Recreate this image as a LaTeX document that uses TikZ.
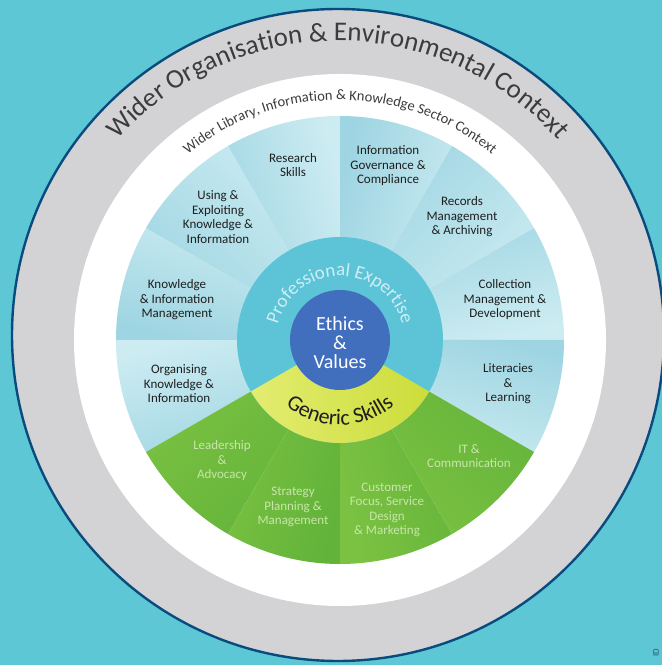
\documentclass[tikz,border=0pt]{standalone}
\usepackage{fontspec}
\setmainfont{Carlito}
\usetikzlibrary{calc,decorations.text}
\definecolor{BackClr}{rgb}{0.3647,0.7804,0.8392}
\definecolor{RimClr}{rgb}{0.0392,0.2941,0.4902}
\definecolor{GreyClr}{rgb}{0.8275,0.8235,0.8314}
\definecolor{SegDarkClr}{rgb}{0.6196,0.8353,0.8863}
\definecolor{SegLightClr}{rgb}{0.8039,0.9255,0.949}
\definecolor{ProfClr}{rgb}{0.3608,0.7686,0.8392}
\definecolor{EthicsClr}{rgb}{0.2588,0.4314,0.7451}
\definecolor{GenDarkClr}{rgb}{0.8,0.8667,0.2275}
\definecolor{GenLightClr}{rgb}{0.8902,0.9255,0.4392}
\definecolor{GreenDarkClr}{rgb}{0.3843,0.702,0.2275}
\definecolor{GreenLightClr}{rgb}{0.4863,0.7608,0.2588}
\definecolor{GreenTxtClr}{rgb}{0.7843,0.902,0.6667}
\definecolor{ProfTxtClr}{rgb}{0.8039,0.9333,0.9569}
\definecolor{RingTxtClr}{rgb}{0.2353,0.2353,0.2431}
\definecolor{LabelClr}{rgb}{0.1176,0.1176,0.1176}
\definecolor{MarkClr}{rgb}{0.1216,0.3608,0.4314}

\tikzset{
  bluewedge/.style={top color=SegDarkClr,bottom color=SegLightClr,shading angle=#1},
  greenwedge/.style={top color=GreenDarkClr,bottom color=GreenLightClr,shading angle=#1},
  seglabel/.style={align=center,text=LabelClr,font=\fontsize{13}{14.5}\selectfont},
  greenlabel/.style={align=center,text=GreenTxtClr,font=\fontsize{13}{14.5}\selectfont}
}

\begin{document}
\begin{tikzpicture}[x=1pt,y=1pt]
\coordinate (SW) at (0,0);
\coordinate (NE) at (662,665);
\coordinate (G) at (338,330);
\coordinate (W) at (340,325);

\useasboundingbox (SW) rectangle (NE);
\fill[BackClr] (SW) rectangle (NE);

\fill[GreyClr] (G) circle[radius=326];
\draw[RimClr,line width=2.4pt] (G) circle[radius=326];
\fill[white] (W) circle[radius=266];

\shade[bluewedge=195] (W) -- ++(180:224) arc[start angle=180,end angle=210,radius=224] -- cycle;
\shade[bluewedge=165] (W) -- ++(150:224) arc[start angle=150,end angle=180,radius=224] -- cycle;
\shade[bluewedge=135] (W) -- ++(120:224) arc[start angle=120,end angle=150,radius=224] -- cycle;
\shade[bluewedge=105] (W) -- ++(90:224) arc[start angle=90,end angle=120,radius=224] -- cycle;
\shade[bluewedge=75] (W) -- ++(60:224) arc[start angle=60,end angle=90,radius=224] -- cycle;
\shade[bluewedge=45] (W) -- ++(30:224) arc[start angle=30,end angle=60,radius=224] -- cycle;
\shade[bluewedge=15] (W) -- ++(0:224) arc[start angle=0,end angle=30,radius=224] -- cycle;
\shade[bluewedge=-15] (W) -- ++(-30:224) arc[start angle=-30,end angle=0,radius=224] -- cycle;
\shade[greenwedge=225] (W) -- ++(210:224) arc[start angle=210,end angle=240,radius=224] -- cycle;
\shade[greenwedge=255] (W) -- ++(240:224) arc[start angle=240,end angle=270,radius=224] -- cycle;
\shade[greenwedge=285] (W) -- ++(270:224) arc[start angle=270,end angle=300,radius=224] -- cycle;
\shade[greenwedge=315] (W) -- ++(300:224) arc[start angle=300,end angle=330,radius=224] -- cycle;

\fill[ProfClr] (W) circle[radius=103];
\shade[left color=GenLightClr,right color=GenDarkClr] (W) -- ++(210:103) arc[start angle=210,end angle=330,radius=103] -- cycle;
\fill[EthicsClr] (W) circle[radius=50];

\path[decorate,decoration={text along path,text align=center,
  text={|\fontsize{27}{27}\selectfont\color{RingTxtClr}|Wider Organisation {\&} Environmental Context}}]
  ($(G)+(150:294)$) arc[start angle=150,end angle=30,radius=294];
\path[decorate,decoration={text along path,text align=center,
  text={|\fontsize{14.5}{14.5}\selectfont\color{RingTxtClr}|Wider Library, Information {\&} Knowledge Sector Context}}]
  ($(W)+(150:240)$) arc[start angle=150,end angle=30,radius=240];
\path[decorate,decoration={text along path,text align=center,
  text={|\fontsize{19}{19}\selectfont\color{ProfTxtClr}|Professional Expertise}}]
  ($(W)+(200:64)$) arc[start angle=200,end angle=-20,radius=64];
\path[decorate,decoration={text along path,text align=center,
  text={|\fontsize{22}{22}\selectfont\color{LabelClr}|Generic Skills}}]
  ($(W)+(200:85)$) arc[start angle=200,end angle=340,radius=85];

\node[align=center,text=white,font=\fontsize{20}{19}\selectfont] (ethics) at (340,322) {Ethics\\\&\\Values};

\node[seglabel] (research) at (293,500) {Research\\Skills};
\node[seglabel] (infogov) at (388,499) {Information\\Governance \&\\Compliance};
\node[seglabel] (using) at (218,448) {Using \&\\Exploiting\\Knowledge \&\\Information};
\node[seglabel] (records) at (462,448) {Records\\Management\\\& Archiving};
\node[seglabel] (kimgmt) at (177,365) {Knowledge\\\& Information\\Management};
\node[seglabel] (collection) at (505,365) {Collection\\Management \&\\Development};
\node[seglabel] (organising) at (179,281) {Organising\\Knowledge \&\\Information};
\node[seglabel] (literacies) at (508,281) {Literacies\\\&\\Learning};
\node[greenlabel] (leadership) at (222,204) {Leadership\\\&\\Advocacy};
\node[greenlabel] (strategy) at (293,158) {Strategy\\Planning \&\\Management};
\node[greenlabel] (customer) at (387,155) {Customer\\Focus, Service\\Design\\\& Marketing};
\node[greenlabel] (itcomm) at (469,209) {IT \&\\Communication};

\node[rotate=90,text=MarkClr,font=\fontsize{9}{9}\selectfont] (idmark) at (656,12) {ID};

\end{tikzpicture}
\end{document}
